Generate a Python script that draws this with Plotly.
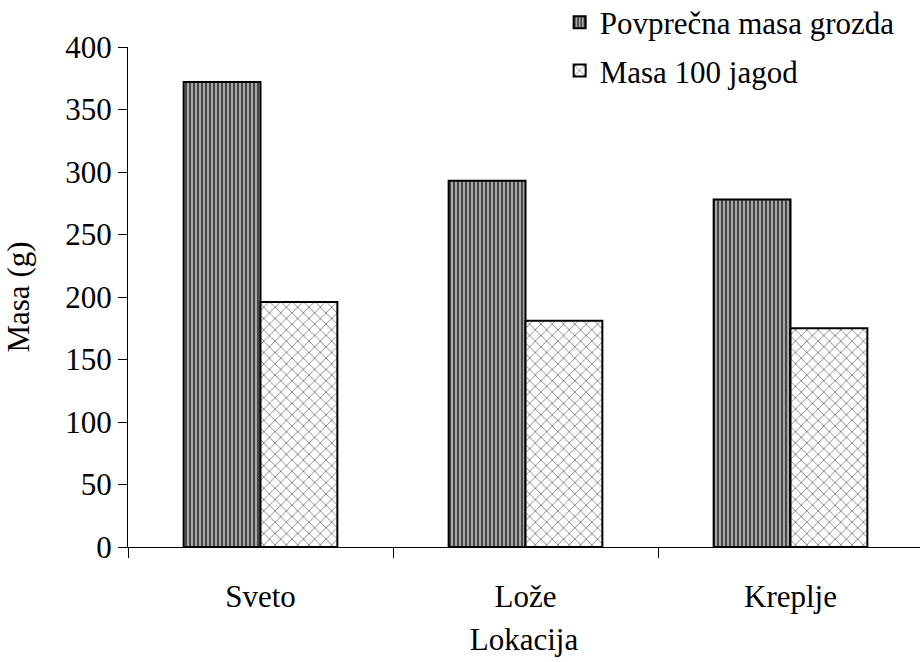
import plotly.graph_objects as go

categories = ["Sveto", "Lože", "Kreplje"]
series_names = ["Povprečna masa grozda", "Masa 100 jagod"]
masa_grozda = [372, 293, 278]
masa_jagod = [196, 181, 175]
y_ticks = [0, 50, 100, 150, 200, 250, 300, 350, 400]

FONT = "Liberation Serif"
FS = 31

fig = go.Figure()
fig.add_trace(go.Bar(
    x=categories, y=masa_grozda, name=series_names[0],
    legendgroup="a",
    marker=dict(
        color="#8c8c8c",
        line=dict(color="black", width=2),
        pattern=dict(shape="|", fgcolor="#3c3c3c", bgcolor="#a8a8a8",
                     size=4, solidity=0.45, fillmode="replace"),
    ),
))
fig.add_trace(go.Bar(
    x=categories, y=masa_jagod, name=series_names[1],
    legendgroup="b",
    marker=dict(
        color="white",
        line=dict(color="black", width=2),
        pattern=dict(shape="x", fgcolor="#7a7a7a", bgcolor="white",
                     size=8, solidity=0.2, fillmode="replace"),
    ),
))

fig.update_layout(
    width=920, height=662,
    margin=dict(l=128, r=0, t=47, b=115, autoexpand=False),
    paper_bgcolor="white", plot_bgcolor="white",
    font=dict(family=FONT, size=FS, color="black"),
    barmode="group", bargap=0.42, bargroupgap=0,
    showlegend=True,
    legend=dict(
        x=0.545, y=1.103, xanchor="left", yanchor="top",
        bgcolor="rgba(0,0,0,0)", traceorder="grouped", tracegroupgap=5,
        font=dict(family=FONT, size=FS, color="black"),
    ),
    xaxis=dict(
        range=[-0.5, 2.5 - 3 / 265],
        showline=True, linecolor="black", linewidth=1,
        ticks="outside", tickson="boundaries", ticklen=10, tickcolor="black",
        showgrid=False, zeroline=False, automargin=False,
        ticklabelstandoff=22,
        tickfont=dict(family=FONT, size=FS, color="black"),
        title=dict(text="Lokacija", font=dict(family=FONT, size=FS, color="black"), standoff=15),
    ),
    yaxis=dict(
        range=[0, 400], tickvals=y_ticks,
        showline=True, linecolor="black", linewidth=1,
        ticks="outside", ticklen=9, tickcolor="black",
        showgrid=False, zeroline=False, automargin=False,
        tickfont=dict(family=FONT, size=FS, color="black"),
        title=dict(text="Masa (g)", font=dict(family=FONT, size=FS, color="black"), standoff=26),
    ),
)

fig.write_html("out.html")
